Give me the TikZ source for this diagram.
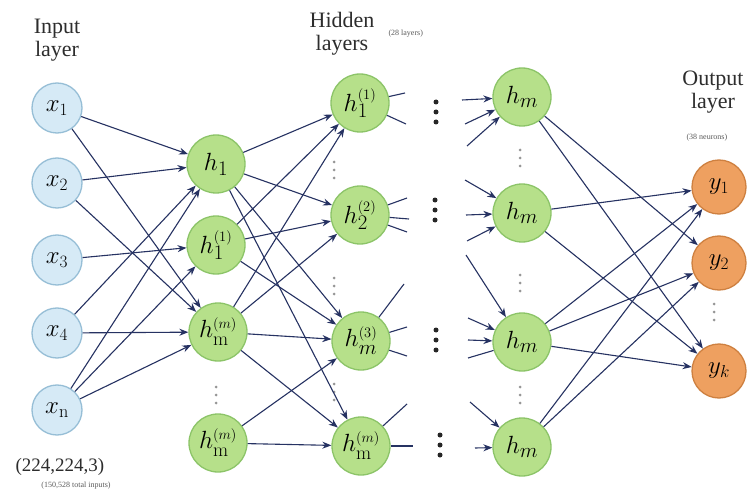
\documentclass[tikz,border=0pt]{standalone}
\usepackage{fontspec}
\usetikzlibrary{arrows.meta}
\newfontfamily\ttlfont{Liberation Serif}
\definecolor{infill}{RGB}{214,234,246}
\definecolor{inborder}{RGB}{150,190,214}
\definecolor{hidfill}{RGB}{182,224,138}
\definecolor{hidborder}{RGB}{140,196,104}
\definecolor{outfill}{RGB}{238,160,96}
\definecolor{outborder}{RGB}{206,128,64}
\definecolor{edgecol}{RGB}{38,50,98}
\definecolor{txt}{RGB}{45,45,45}
\definecolor{dotgray}{RGB}{150,150,150}
\newcommand{\hsup}[2]{h^{\scriptscriptstyle(#1)}_{\raisebox{-2pt}{$\scriptstyle #2$}}}
\begin{document}
\begin{tikzpicture}[x=1pt,y=-1pt,
  inp/.style={circle,draw=inborder,fill=infill,line width=1.3pt,minimum size=50pt,inner sep=0pt,font=\fontsize{26}{26}\selectfont},
  hid/.style={circle,draw=hidborder,fill=hidfill,line width=1.3pt,minimum size=58pt,inner sep=0pt,font=\fontsize{28}{28}\selectfont},
  outn/.style={circle,draw=outborder,fill=outfill,line width=1.3pt,minimum size=54pt,inner sep=0pt,font=\fontsize{26}{26}\selectfont},
  con/.style={draw=edgecol,line width=1.1pt,-{Stealth[length=9pt,width=7pt]}},
  stub/.style={draw=edgecol,line width=1.1pt},
  title/.style={align=center,text=txt,font=\ttlfont\fontsize{22}{23}\selectfont},
  tiny/.style={text=dotgray!60!black,font=\ttlfont\fontsize{8}{8}\selectfont},
  bigdot/.style={circle,fill=black!85,inner sep=0pt,minimum size=5pt},
  smalldot/.style={circle,fill=dotgray,inner sep=0pt,minimum size=3pt}]
\clip (0,0) rectangle (750,492);
\fill[white] (0,0) rectangle (750,492);

% titles
\node[title] (tin) at (57,40) {Input\\layer};
\node[title] (thid) at (342,34) {Hidden\\layers};
\node[tiny,anchor=west] (thidn) at (385,34) {(28 layers)};
\node[title] (tout) at (713,92) {Output\\layer};
\node[tiny,anchor=west] (toutn) at (683,138) {(38 neurons)};
\node[text=txt,font=\ttlfont\fontsize{19}{20}\selectfont] (dims) at (60,467) {(224,224,3)};
\node[tiny] (tot) at (76,486) {(150,528 total inputs)};

% input layer
\node[inp] (x1) at (57,108) {$x_1$};
\node[inp] (x2) at (57,183) {$x_2$};
\node[inp] (x3) at (57,260) {$x_3$};
\node[inp] (x4) at (57,333) {$x_4$};
\node[inp] (xn) at (57,410) {$x_{\mathrm{n}}$};

% hidden column 1
\node[hid] (h1) at (216,164) {$h_1$};
\node[hid] (hA) at (216,245) {$\hsup{1}{1}$};
\node[hid] (hB) at (218,332) {$\hsup{m}{\mathrm{m}}$};
\node[hid] (hC) at (218,443) {$\hsup{m}{\mathrm{m}}$};

% hidden column 2
\node[hid] (p1) at (360,103) {$\hsup{1}{1}$};
\node[hid] (p2) at (360,215) {$\hsup{2}{2}$};
\node[hid] (p3) at (361,341) {$\hsup{3}{m}$};
\node[hid] (p4) at (361,446) {$\hsup{m}{\mathrm{m}}$};

% hidden column m
\node[hid] (m1) at (522,97) {$h_m$};
\node[hid] (m2) at (522,213) {$h_m$};
\node[hid] (m3) at (522,342) {$h_m$};
\node[hid] (m4) at (522,447) {$h_m$};

% output
\node[outn] (y1) at (719,187) {$y_1$};
\node[outn] (y2) at (719,263) {$y_2$};
\node[outn] (yk) at (719,371) {$y_k$};

% small vertical dots
\foreach \x/\y in {216/395, 334/170, 334/286, 334/392, 520/158, 520/283, 520/395, 714/312}{
  \foreach \d in {-8,0,8}{\node[smalldot] at (\x,\y+\d) {};}
}
% big dots
\foreach \x/\y in {436/112, 435/210, 436/340, 440/445}{
  \foreach \d in {-10,0,10}{\node[bigdot] at (\x,\y+\d) {};}
}

% input -> hidden 1
\draw[con] (x1) -- (h1);
\draw[con] (x1) -- (hB);
\draw[con] (x2) -- (h1);
\draw[con] (x2) -- (hB);
\draw[con] (x3) -- (hA);
\draw[con] (x4) -- (hB);
\draw[con] (x4) -- (h1);
\draw[con] (xn) -- (h1);
\draw[con] (xn) -- (hA);
\draw[con] (xn) -- (hB);

% hidden 1 -> hidden 2
\draw[con] (h1) -- (p1);
\draw[con] (h1) -- (p2);
\draw[con] (h1) -- (p3);
\draw[con] (h1) -- (p4);
\draw[con] (hA) -- (p1);
\draw[con] (hA) -- (p2);
\draw[con] (hA) -- (p3);
\draw[con] (hB) -- (p1);
\draw[con] (hB) -- (p2);
\draw[con] (hB) -- (p3);
\draw[con] (hB) -- (p4);
\draw[con] (hC) -- (p3);
\draw[con] (hC) -- (p4);

% stubs leaving hidden column 2
\coordinate (s1a) at (405,93);
\coordinate (s1b) at (406,124);
\coordinate (s2a) at (407,198);
\coordinate (s2b) at (407,232);
\coordinate (s2c) at (409,219);
\coordinate (s3a) at (404,284);
\coordinate (s3b) at (407,327);
\coordinate (s3c) at (407,356);
\coordinate (s4a) at (407,404);
\coordinate (s4b) at (413,446);
\draw[stub] (p1) -- (s1a);
\draw[stub] (p1) -- (s1b);
\draw[stub] (p2) -- (s2a);
\draw[stub] (p2) -- (s2b);
\draw[stub] (p2) -- (s2c);
\draw[stub] (p3) -- (s3a);
\draw[stub] (p3) -- (s3b);
\draw[stub] (p3) -- (s3c);
\draw[stub] (p4) -- (s4a);
\draw[stub] (p4) -- (s4b);

% stubs entering hidden column m
\coordinate (t1a) at (462,100);
\coordinate (t1b) at (465,124);
\coordinate (t1c) at (467,146);
\coordinate (t2a) at (465,180);
\coordinate (t2b) at (466,215);
\coordinate (t2c) at (467,241);
\coordinate (t3a) at (466,255);
\coordinate (t3b) at (468,318);
\coordinate (t3c) at (468,340);
\coordinate (t3d) at (468,358);
\coordinate (t4a) at (470,402);
\coordinate (t4b) at (475,448);
\draw[con] (t1a) -- (m1);
\draw[con] (t1b) -- (m1);
\draw[con] (t1c) -- (m1);
\draw[con] (t2a) -- (m2);
\draw[con] (t2b) -- (m2);
\draw[con] (t2c) -- (m2);
\draw[con] (t3a) -- (m3);
\draw[con] (t3b) -- (m3);
\draw[con] (t3c) -- (m3);
\draw[stub] (t3d) -- (m3);
\draw[con] (t4a) -- (m4);
\draw[con] (t4b) -- (m4);

% hidden m -> output
\draw[con] (m1) -- (y2);
\draw[con] (m1) -- (yk);
\draw[con] (m2) -- (y1);
\draw[con] (m2) -- (yk);
\draw[con] (m3) -- (y1);
\draw[con] (m3) -- (y2);
\draw[con] (m3) -- (yk);
\draw[con] (m4) -- (y1);
\draw[con] (m4) -- (y2);
\end{tikzpicture}
\end{document}
